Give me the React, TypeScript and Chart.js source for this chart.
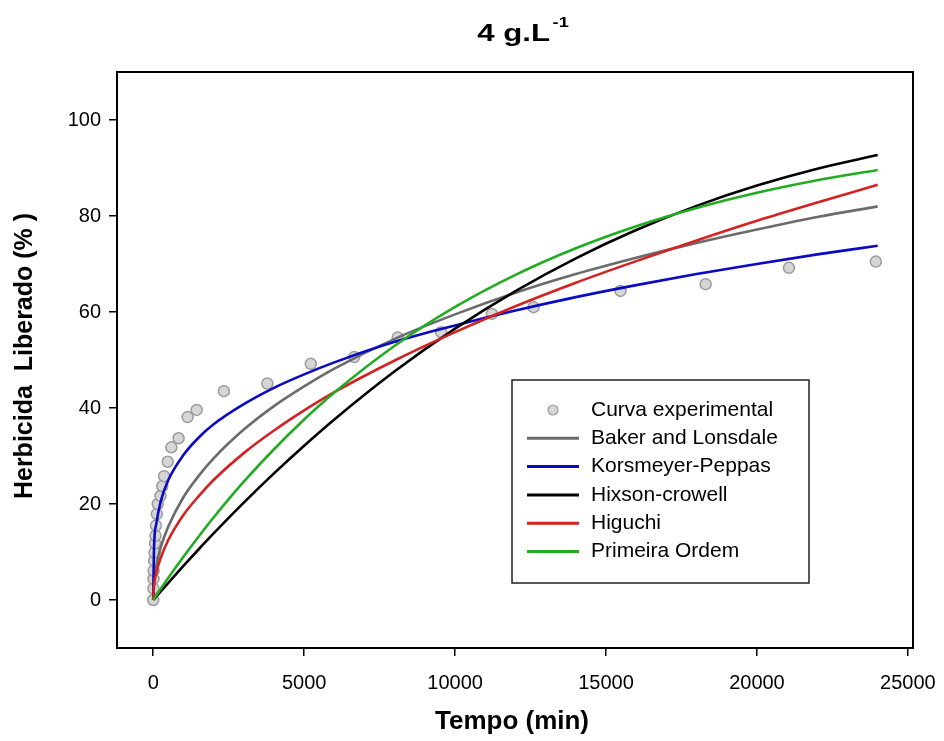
import React, { useEffect, useRef } from 'react';
import { Chart, registerables } from 'chart.js';

Chart.register(...registerables);

const FONT = '"Liberation Sans", Arial, Helvetica, sans-serif';

// Experimental release points (time in min, % released)
const EXP_T = [0, 5, 10, 15, 30, 45, 60, 75, 90, 120, 150, 240, 300, 360, 480, 600, 840, 1140, 1440, 2340, 3780, 5220, 6660, 8100, 9540, 11220, 12600, 15480, 18300, 21060, 23940];
const EXP_Y = [0, 2.4, 4.4, 6.1, 8.2, 9.9, 11.8, 13.4, 15.5, 17.9, 20.0, 21.7, 23.7, 25.8, 28.8, 31.8, 33.7, 38.1, 39.6, 43.5, 45.1, 49.2, 50.6, 54.7, 55.8, 59.6, 61.0, 64.4, 65.8, 69.2, 70.5];

// Model curves read at these times
const MODEL_T = [0, 25, 100, 250, 500, 1000, 1500, 2000, 3000, 4000, 5000, 6000, 8000, 10000, 12000, 14000, 16000, 18000, 20000, 22000, 24000];
const BAKER = [0, 3.5, 7.0, 11.0, 15.3, 21.4, 25.8, 29.5, 35.5, 40.4, 44.5, 48.2, 54.4, 59.5, 64.0, 67.9, 71.3, 74.4, 77.2, 79.8, 82.0];
const KORS = [0, 10.6, 15.8, 20.6, 25.0, 30.2, 33.8, 36.6, 40.8, 44.2, 47.0, 49.5, 53.8, 57.2, 60.3, 63.1, 65.6, 67.9, 70.0, 72.0, 73.8];
const HIXSON = [0, 0.18, 0.73, 1.81, 3.59, 7.10, 10.52, 13.86, 20.28, 26.37, 32.14, 37.61, 47.64, 56.53, 64.36, 71.19, 77.08, 82.11, 86.34, 89.85, 92.70];
const HIGUCHI = [0, 2.8, 5.6, 8.8, 12.5, 17.7, 21.6, 25.0, 30.6, 35.3, 39.5, 43.3, 49.9, 55.8, 61.2, 66.1, 70.6, 74.9, 79.0, 82.8, 86.5];
const PRIMEIRA = [0, 0.24, 0.94, 2.33, 4.61, 9.00, 13.19, 17.19, 24.64, 31.41, 37.59, 43.21, 52.97, 61.06, 67.75, 73.29, 77.88, 81.68, 84.84, 87.44, 89.60];

const X_TICKS = [0, 5000, 10000, 15000, 20000, 25000];
const Y_TICKS = [0, 20, 40, 60, 80, 100];

const TITLE = '4 g.L';
const TITLE_SUP = '-1';
const X_TITLE = 'Tempo (min)';
const Y_TITLE = 'Herbicida  Liberado (% )';

const SERIES = [
  { label: 'Baker and Lonsdale', data: BAKER, color: '#6b6b6b' },
  { label: 'Korsmeyer-Peppas', data: KORS, color: '#0a0ac4' },
  { label: 'Hixson-crowell', data: HIXSON, color: '#000000' },
  { label: 'Higuchi', data: HIGUCHI, color: '#d42222' },
  { label: 'Primeira Ordem', data: PRIMEIRA, color: '#22ac22' },
];

const framePlugin = {
  id: 'frame',
  afterDatasetsDraw(chart: any) {
    const { ctx, chartArea: a } = chart;
    ctx.save();
    ctx.strokeStyle = '#000';
    ctx.lineWidth = 2;
    ctx.strokeRect(a.left, a.top, a.right - a.left, a.bottom - a.top);
    ctx.restore();
  },
};

const textPlugin = {
  id: 'texts',
  afterDraw(chart: any) {
    const { ctx, chartArea: a } = chart;
    ctx.save();
    ctx.fillStyle = '#000';
    // Title with superscript
    ctx.font = `bold 24px ${FONT}`;
    const sx = 1.3;
    const wMain = ctx.measureText(TITLE).width;
    ctx.font = `bold 14px ${FONT}`;
    const wSup = ctx.measureText(TITLE_SUP).width;
    const total = (wMain + 2 + wSup) * sx;
    const cx = (a.left + a.right) / 2 + 8;
    ctx.save();
    ctx.translate(cx - total / 2, 41);
    ctx.scale(sx, 1);
    ctx.textBaseline = 'alphabetic';
    ctx.textAlign = 'left';
    ctx.font = `bold 24px ${FONT}`;
    ctx.fillText(TITLE, 0, 0);
    ctx.font = `bold 14px ${FONT}`;
    ctx.fillText(TITLE_SUP, wMain + 2, -14);
    ctx.restore();

    // X axis title
    ctx.font = `bold 26px ${FONT}`;
    ctx.textAlign = 'center';
    ctx.textBaseline = 'alphabetic';
    ctx.fillText(X_TITLE, (a.left + a.right) / 2 - 3, 729);

    // Y axis title
    ctx.save();
    ctx.translate(25, (a.top + a.bottom) / 2 - 4);
    ctx.rotate(-Math.PI / 2);
    ctx.font = `bold 25px ${FONT}`;
    ctx.textAlign = 'center';
    ctx.textBaseline = 'middle';
    ctx.fillText(Y_TITLE, 0, 0);
    ctx.restore();

    // Legend box
    const lx = a.left + 395;
    const ly = a.top + 308;
    const lw = 297;
    const lh = 203;
    ctx.fillStyle = '#fff';
    ctx.fillRect(lx, ly, lw, lh);
    ctx.strokeStyle = '#222';
    ctx.lineWidth = 1.5;
    ctx.strokeRect(lx, ly, lw, lh);
    ctx.font = `21px ${FONT}`;
    ctx.textAlign = 'left';
    ctx.textBaseline = 'middle';
    chart.data.datasets.forEach((ds: any, i: number) => {
      const y = ly + 30 + i * 28.3;
      if (ds.showLine === false) {
        ctx.beginPath();
        ctx.arc(lx + 41, y, 5, 0, Math.PI * 2);
        ctx.fillStyle = ds.backgroundColor;
        ctx.fill();
        ctx.strokeStyle = ds.borderColor;
        ctx.lineWidth = 1.2;
        ctx.stroke();
      } else {
        ctx.beginPath();
        ctx.moveTo(lx + 15, y);
        ctx.lineTo(lx + 67, y);
        ctx.strokeStyle = ds.borderColor;
        ctx.lineWidth = 3;
        ctx.stroke();
      }
      ctx.fillStyle = '#000';
      ctx.fillText(ds.label, lx + 79, y);
    });
    ctx.restore();
  },
};

export default function App() {
  const ref = useRef<HTMLCanvasElement | null>(null);

  useEffect(() => {
    if (!ref.current) return;
    const datasets: any[] = [
      {
        label: 'Curva experimental',
        data: EXP_T.map((t, i) => ({ x: t, y: EXP_Y[i] })),
        showLine: false,
        pointRadius: 5.5,
        pointBorderWidth: 1.5,
        backgroundColor: '#d6d6d6',
        borderColor: '#9c9c9c',
        pointBackgroundColor: '#d6d6d6',
        pointBorderColor: '#9c9c9c',
        order: 10,
      },
      ...SERIES.map((s, i) => ({
        label: s.label,
        data: MODEL_T.map((t, j) => ({ x: t, y: s.data[j] })),
        borderColor: s.color,
        backgroundColor: s.color,
        borderWidth: 2.6,
        pointRadius: 0,
        fill: false,
        cubicInterpolationMode: 'monotone',
        order: 5 - i,
      })),
    ];

    const chart = new Chart(ref.current, {
      type: 'line',
      data: { datasets },
      options: {
        animation: false,
        responsive: false,
        devicePixelRatio: 1,
        layout: { padding: { left: 0, right: 31, top: 72, bottom: 0 } },
        plugins: {
          legend: { display: false },
          title: { display: false },
          tooltip: { enabled: false },
        },
        scales: {
          x: {
            type: 'linear',
            min: -1200,
            max: 25170,
            afterBuildTicks: (s: any) => {
              s.ticks = X_TICKS.map((v) => ({ value: v }));
            },
            afterFit: (s: any) => {
              s.height = 93;
              s.paddingLeft = 0;
              s.paddingRight = 0;
            },
            ticks: {
              color: '#000',
              font: { family: FONT, size: 20 },
              padding: 15,
              maxRotation: 0,
              autoSkip: false,
              callback: (v: any) => String(v),
            },
            grid: { drawOnChartArea: false, drawTicks: true, tickLength: 8, color: '#000', lineWidth: 1.5 },
            border: { display: false },
          },
          y: {
            type: 'linear',
            min: -10,
            max: 110,
            afterBuildTicks: (s: any) => {
              s.ticks = Y_TICKS.map((v) => ({ value: v }));
            },
            afterFit: (s: any) => {
              s.width = 117;
              s.paddingTop = 0;
              s.paddingBottom = 0;
            },
            ticks: {
              color: '#000',
              font: { family: FONT, size: 20 },
              padding: 8,
              callback: (v: any) => String(v),
            },
            grid: { drawOnChartArea: false, drawTicks: true, tickLength: 8, color: '#000', lineWidth: 1.5 },
            border: { display: false },
          },
        },
      } as any,
      plugins: [framePlugin, textPlugin],
    });
    return () => chart.destroy();
  }, []);

  return (
    <div style={{ position: 'absolute', left: 0, top: 0, width: 944, height: 741, background: '#fff' }}>
      <canvas ref={ref} width={944} height={741} style={{ display: 'block', width: 944, height: 741 }} />
    </div>
  );
}
